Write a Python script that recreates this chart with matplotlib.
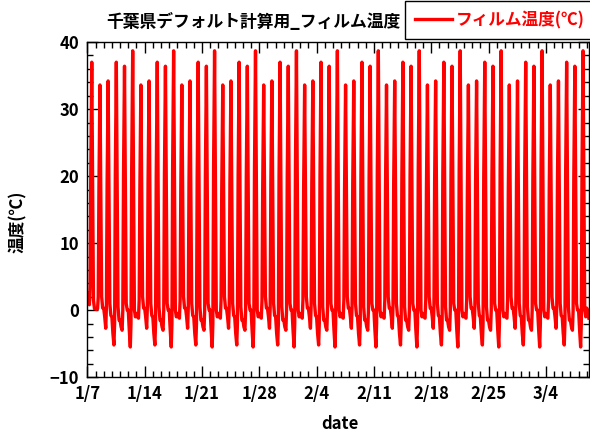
import datetime as dt
import numpy as np
import matplotlib
matplotlib.use("Agg")
import matplotlib.pyplot as plt
import matplotlib.dates as mdates
from matplotlib.ticker import MultipleLocator, FuncFormatter

plt.rcParams['font.family'] = ['Noto Sans CJK JP', 'DejaVu Sans']
plt.rcParams['font.weight'] = 'bold'

# film temperature, sampled at these hours of each day
day_hours = [0, 3, 6, 8, 10, 13, 16, 18, 21]
first_day = [2.5, 1.5, 0.8, 3.5, 20.0, 37.0, 15.0, 1.5, 0.2]
second_day = [0.2, 0.1, 0.2, 2.0, 18.0, 33.6, 14.0, 2.0, 0.3]
# five-day weather cycle of the default data set
cycle_days = [
    [0.3, -1.0, -2.7, 0.5, 19.0, 34.2, 15.0, 1.0, -0.8],
    [-1.0, -3.5, -5.2, -2.0, 20.0, 37.0, 16.0, 0.5, -1.5],
    [-1.5, -2.5, -3.0, 0.0, 20.0, 36.4, 15.0, 1.0, 0.0],
    [0.0, -3.0, -5.5, -2.0, 21.0, 38.7, 16.0, 0.0, -1.0],
    [-0.5, -1.0, -1.2, 1.5, 18.0, 33.6, 14.0, 2.0, 0.3],
]
last_day = [0.3, -0.5, -1.2]

start = dt.datetime(2019, 1, 7)
n_cycle_days = 59
tick_labels = ['1/7', '1/14', '1/21', '1/28', '2/4', '2/11', '2/18', '2/25', '3/4']

days = [first_day, second_day]
for i in range(n_cycle_days):
    days.append(cycle_days[i % 5])
days.append(last_day)

times = []
temps = []
for d, vals in enumerate(days):
    for h, v in zip(day_hours, vals):
        times.append(start + dt.timedelta(days=d, hours=h))
        temps.append(v)

fig = plt.figure(figsize=(5.9, 4.34), dpi=100)
ax = fig.add_axes([0.148, 0.131, 0.850, 0.772])
ax.plot(times, temps, color='#ff0000', lw=2.4, label='フィルム温度(℃)')

ax.set_xlim(times[0], times[-1])
ax.set_ylim(-10, 40)

major_dates = [start + dt.timedelta(days=7 * k) for k in range(len(tick_labels))]
ax.set_xticks(mdates.date2num(major_dates))
ax.set_xticklabels(tick_labels)
ax.xaxis.set_minor_locator(mdates.DayLocator())
ax.yaxis.set_major_locator(MultipleLocator(10))
ax.yaxis.set_minor_locator(MultipleLocator(2))
ax.yaxis.set_major_formatter(FuncFormatter(lambda v, p: f'{v:.0f}'.replace('-', '\u2212')))

ax.tick_params(which='both', direction='in', top=True, right=True, width=1)
ax.tick_params(which='major', length=8, labelsize=12, pad=6)
ax.tick_params(which='minor', length=4)
for lab in ax.get_xticklabels() + ax.get_yticklabels():
    lab.set_fontweight('bold')
for s in ax.spines.values():
    s.set_linewidth(1)

fig.text(106 / 590, 1 - 22 / 434, '千葉県デフォルト計算用_フィルム温度',
         fontsize=12.1, fontweight='bold', ha='left', va='center')
fig.text(18 / 590, 1 - 222 / 434, '温度(℃)', rotation=90,
         fontsize=12, fontweight='bold', ha='center', va='center')
fig.text(340 / 590, 1 - 424 / 434, 'date',
         fontsize=12, fontweight='bold', ha='center', va='center')

leg = ax.legend(loc='upper left', bbox_to_anchor=(405 / 590, 1 - 1 / 434),
                bbox_transform=fig.transFigure, frameon=True, fancybox=False,
                edgecolor='black', framealpha=1, fontsize=12,
                handlelength=2.2, handletextpad=0.25, borderpad=0.6,
                borderaxespad=0)
leg.get_frame().set_linewidth(1)
for t in leg.get_texts():
    t.set_color('#ff0000')
    t.set_fontweight('bold')

fig.savefig('out.png', dpi=100)
